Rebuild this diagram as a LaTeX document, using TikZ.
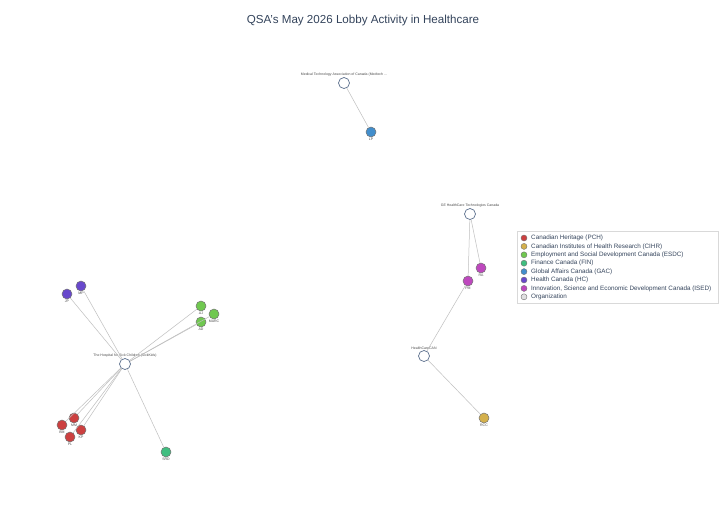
\documentclass[tikz,border=0pt]{standalone}
\usepackage{fontspec}
\setmainfont{Liberation Sans}
\definecolor{pchred}{RGB}{204,64,64}
\definecolor{cihrgold}{RGB}{212,176,76}
\definecolor{esdcgreen}{RGB}{112,200,80}
\definecolor{fingreen}{RGB}{64,190,128}
\definecolor{gacblue}{RGB}{66,142,204}
\definecolor{hcpurple}{RGB}{104,72,204}
\definecolor{isedpink}{RGB}{190,72,190}
\definecolor{orgedge}{RGB}{90,110,140}
\definecolor{titlegray}{RGB}{52,68,92}
\tikzset{
  agent/.style={circle, draw=black!55, line width=0.5pt, minimum size=10pt, inner sep=0pt},
  orgnode/.style={agent, draw=orgedge, fill=white, line width=0.7pt, minimum size=11pt},
  lbl/.style={font=\fontsize{3.5}{4}\selectfont, text=black!70, inner sep=0.5pt},
  link/.style={draw=black!25, line width=0.5pt},
  keydot/.style={circle, draw=black!55, line width=0.4pt, minimum size=6pt, inner sep=0pt},
  keytext/.style={anchor=west, font=\fontsize{6.3}{7}\selectfont, text=titlegray, inner sep=0pt}
}
\begin{document}
\begin{tikzpicture}[x=1pt, y=-1pt]
  \useasboundingbox[fill=white] (0,0) rectangle (720,504);

  \node[font=\fontsize{11.6}{14}\selectfont, text=titlegray] (title) at (363,20) {QSA's May 2026 Lobby Activity in Healthcare};

  % Organizations
  \node[orgnode, label={[lbl]above:Medical Technology Association of Canada (Medtech ...}] (medtech) at (344,83) {};
  \node[orgnode, label={[lbl]above:GE HealthCare Technologies Canada}] (ge) at (470,214) {};
  \node[orgnode, label={[lbl]above:HealthCareCAN}] (hcan) at (424,356) {};
  \node[orgnode, label={[lbl]above:The Hospital for Sick Children (SickKids)}] (sick) at (125,364) {};

  % Officials
  \node[agent, fill=gacblue, label={[lbl]below:LP}] (lp) at (371,132) {};
  \node[agent, fill=isedpink, label={[lbl]below:RA}] (ra) at (481,268) {};
  \node[agent, fill=isedpink, label={[lbl]below:PM}] (pm) at (468,281) {};
  \node[agent, fill=cihrgold, label={[lbl]below:RCC}] (rcc) at (484,418) {};
  \node[agent, fill=hcpurple, label={[lbl]below:JP}] (jp) at (67,294) {};
  \node[agent, fill=hcpurple, label={[lbl]below:MP}] (mp) at (81,286) {};
  \node[agent, fill=esdcgreen, label={[lbl]below:AJ}] (aj) at (201,306) {};
  \node[agent, fill=esdcgreen, label={[lbl]below:MARC}] (marc) at (214,314) {};
  \node[agent, fill=esdcgreen, label={[lbl]below:AD}] (ad) at (201,322) {};
  \node[agent, fill=pchred, label={[lbl]below:MM}] (mm) at (74,418) {};
  \node[agent, fill=pchred, label={[lbl]below:BM}] (bm) at (62,425) {};
  \node[agent, fill=pchred, label={[lbl]below:KP}] (kp) at (81,430) {};
  \node[agent, fill=pchred, label={[lbl]below:PL}] (pl) at (70,437) {};
  \node[agent, fill=fingreen, label={[lbl]below:SRD}] (srd) at (166,452) {};

  % Links
  \foreach \a/\b in {medtech/lp, ge/ra, ge/pm, hcan/pm, hcan/rcc, sick/jp, sick/mp, sick/aj, sick/marc, sick/ad, sick/mm, sick/bm, sick/kp, sick/pl, sick/srd}
    \path[link] (\a) -- (\b);

  % Legend
  \draw[black!15, fill=white, line width=0.4pt] (517,231) rectangle (718,303);
  \foreach \c/\t [count=\i] in {pchred/{Canadian Heritage (PCH)}, cihrgold/{Canadian Institutes of Health Research (CIHR)}, esdcgreen/{Employment and Social Development Canada (ESDC)}, fingreen/{Finance Canada (FIN)}, gacblue/{Global Affairs Canada (GAC)}, hcpurple/{Health Canada (HC)}, isedpink/{Innovation, Science and Economic Development Canada (ISED)}, black!12/{Organization}}{
    \node[keydot, fill=\c] (key\i) at (524,229.6+8.4*\i) {};
    \node[keytext] (keytext\i) at (531,229.6+8.4*\i) {\t};
  }
\end{tikzpicture}
\end{document}
